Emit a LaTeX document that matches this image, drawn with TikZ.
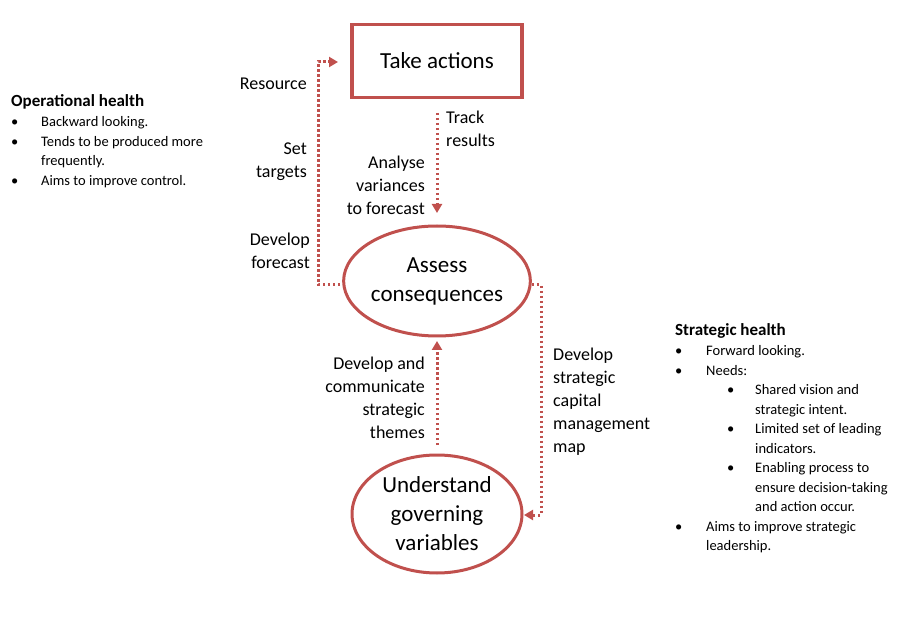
\documentclass[tikz,border=0pt]{standalone}
\usepackage{fontspec}
\setmainfont{Carlito}
\usetikzlibrary{arrows.meta,shapes.geometric}
\definecolor{brick}{RGB}{192,80,77}
\tikzset{
  flow/.style={brick,line width=3pt,dash pattern=on 2.5pt off 2.5pt,-{Triangle[length=9pt,width=10pt,fill=brick]}},
  lbl/.style={font=\fontsize{18}{23}\selectfont,inner sep=0pt},
  pad/.style={font=\fontsize{14.5}{19.5}\selectfont,inner sep=0pt,anchor=north west,align=left}
}
\begin{document}
\begin{tikzpicture}[x=1pt,y=-1pt]
	\useasboundingbox (0,0) rectangle (908,628);
	
	\node (act) [draw=brick,line width=3.5pt,minimum width=170pt,minimum height=73pt,font=\fontsize{23}{26}\selectfont] at (437,61) {Take actions};
	\node (ass) [draw=brick,line width=3pt,ellipse,minimum width=168pt,minimum height=110pt,font=\fontsize{23}{29}\selectfont,align=center,inner sep=0pt] at (437,281) {Assess\\consequences};
	\node (und) [draw=brick,line width=3pt,ellipse,minimum width=170pt,minimum height=118pt,font=\fontsize{23}{29}\selectfont,align=center,inner sep=0pt] at (437,514) {Understand\\governing\\variables};
	
	\coordinate (c1) at (345,285);
	\coordinate (c2) at (541,285);
	\coordinate (t1) at (437,113);
	\coordinate (u1) at (437,445);
	\draw [flow] (c1) -- (318,285) -- (318,62) -- (338,62);
	\draw [flow] (t1) -- (437,213);
	\draw [flow] (u1) -- (437,341);
	\draw [flow] (ass.east |- c2) -- (c2) -- (541,515) -- (524,515);
	
	\node (res) [lbl,anchor=east] at (307,84) {Resource};
	\node (set) [lbl,anchor=east,align=right] at (307,162) {Set\\targets};
	\node (fc) [lbl,anchor=east,align=right] at (310,251) {Develop\\forecast};
	\node (trk) [lbl,anchor=west,align=left] at (446,129) {Track\\results};
	\node (ana) [lbl,anchor=east,align=right] at (425,185) {Analyse\\variances\\to forecast};
	\node (com) [lbl,anchor=east,align=right] at (425,398) {Develop and\\communicate\\strategic\\themes};
	\node (map) [lbl,anchor=west,align=left] at (553,402) {Develop\\strategic\\capital\\management\\map};
	
	\node (oph) [anchor=west,inner sep=0pt,font=\fontsize{17}{19}\bfseries] at (11,102) {Operational health};
	\node (opl) [pad] at (11,113) {\begin{tabular}{@{}p{30pt}@{}l@{}}
	\textbullet & Backward looking.\\
	\textbullet & Tends to be produced more\\
	 & frequently.\\
	\textbullet & Aims to improve control.
	\end{tabular}};
	
	\node (sth) [anchor=west,inner sep=0pt,font=\fontsize{17}{19}\bfseries] at (675,331) {Strategic health};
	\node (stl) [pad] at (675,342) {\begin{tabular}{@{}p{31pt}@{}p{21pt}@{}p{28pt}@{}l@{}}
	\textbullet & \multicolumn{3}{@{}l@{}}{Forward looking.}\\
	\textbullet & \multicolumn{3}{@{}l@{}}{Needs:}\\
	 & & \textbullet & Shared vision and\\
	 & & & strategic intent.\\
	 & & \textbullet & Limited set of leading\\
	 & & & indicators.\\
	 & & \textbullet & Enabling process to\\
	 & & & ensure decision-taking\\
	 & & & and action occur.\\
	\textbullet & \multicolumn{3}{@{}l@{}}{Aims to improve strategic}\\
	 & \multicolumn{3}{@{}l@{}}{leadership.}
	\end{tabular}};
\end{tikzpicture}
\end{document}
